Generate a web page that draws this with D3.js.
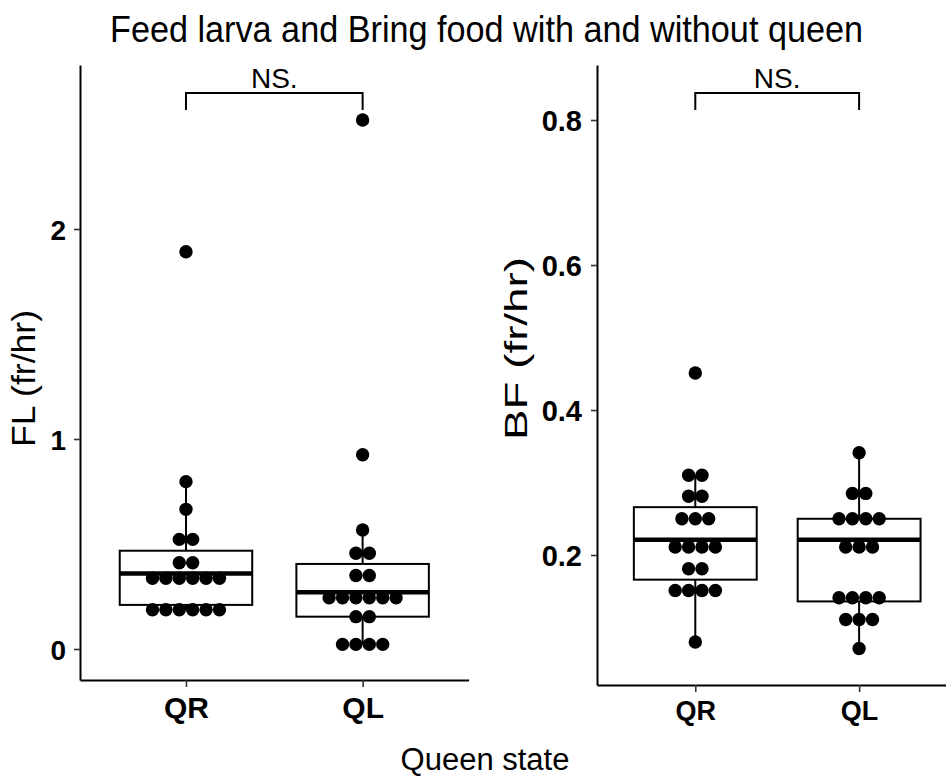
<!DOCTYPE html>
<html>
<head>
<meta charset="utf-8">
<script src="https://cdn.jsdelivr.net/npm/d3@7"></script>
<style>
  body { margin: 0; background: #fff; }
  text { font-family: "Liberation Sans", Arial, sans-serif; }
</style>
</head>
<body>
<svg id="chart" width="946" height="777"></svg>
<script>
"use strict";

// categories
var groups = ["QR", "QL"];

// dot values (as binned by the dotplot), FL panel
var flQR = [1.892, 0.797, 0.665, 0.522, 0.522, 0.411, 0.411,
    0.337, 0.337, 0.337, 0.337, 0.337, 0.337,
    0.187, 0.187, 0.187, 0.187, 0.187, 0.187];
var flQL = [2.519, 0.925, 0.567, 0.456, 0.456, 0.35, 0.35,
    0.244, 0.244, 0.244, 0.244, 0.244, 0.244,
    0.154, 0.154, 0.022, 0.022, 0.022, 0.022];

// dot values, BF panel
var bfQR = [0.451, 0.31, 0.31, 0.281, 0.281, 0.25, 0.25, 0.25,
    0.211, 0.211, 0.211, 0.211, 0.181, 0.181,
    0.151, 0.151, 0.151, 0.151, 0.08];
var bfQL = [0.341, 0.285, 0.285, 0.25, 0.25, 0.25, 0.25,
    0.211, 0.211, 0.211, 0.141, 0.141, 0.141, 0.141,
    0.111, 0.111, 0.111, 0.071];

// box statistics (QR, QL)
var flLow = [0.187, 0.022];
var flQ1 = [0.21, 0.154];
var flMed = [0.36, 0.27];
var flQ3 = [0.468, 0.405];
var flHigh = [0.797, 0.567];

var bfLow = [0.08, 0.071];
var bfQ1 = [0.166, 0.136];
var bfMed = [0.221, 0.221];
var bfQ3 = [0.266, 0.25];
var bfHigh = [0.31, 0.341];

// axis ticks
var flTicks = [0, 1, 2];
var bfTicks = [0.2, 0.4, 0.6, 0.8];

var svg = d3.select("#chart");
svg.append("rect").attr("width", 946).attr("height", 777).attr("fill", "#fff");

var DOT_D = 13.4;

function drawPanel(p) {
    var g = svg.append("g");
    var x = d3.scalePoint().domain(groups).range(p.xRange).padding(0.6);
    var y = d3.scaleLinear().domain(p.yDomain).range(p.yRange);
    var boxW = x.step() * 0.75;

    // y axis
    var ya = g.append("g")
        .attr("transform", "translate(" + p.xRange[0] + ",0)")
        .call(d3.axisLeft(y).tickValues(p.ticks).tickSize(6).tickSizeOuter(0)
            .tickPadding(p.yPad).tickFormat(p.fmt));
    ya.select(".domain").attr("stroke", "#000").attr("stroke-width", 2);
    ya.selectAll(".tick line").attr("stroke", "#333").attr("stroke-width", 1.6);
    ya.selectAll(".tick text")
        .attr("fill", "#000")
        .style("font-size", p.yFont + "px")
        .style("font-weight", "bold")
        .attr("dy", "0.36em");

    // x axis
    var xa = g.append("g")
        .attr("transform", "translate(0," + p.yRange[0] + ")")
        .call(d3.axisBottom(x).tickSize(7).tickSizeOuter(0));
    xa.select(".domain").attr("stroke", "#000").attr("stroke-width", 2);
    xa.selectAll(".tick line").attr("stroke", "#333").attr("stroke-width", 1.6);
    xa.selectAll(".tick text")
        .attr("fill", "#000")
        .attr("y", p.xLabY)
        .attr("dy", 0)
        .style("font-size", p.xFont + "px")
        .style("font-weight", "bold");

    // boxplots
    groups.forEach(function (grp, i) {
        var cx = x(grp);
        g.append("line")
            .attr("x1", cx).attr("x2", cx)
            .attr("y1", y(p.q3[i])).attr("y2", y(p.high[i]))
            .attr("stroke", "#000").attr("stroke-width", 2);
        g.append("line")
            .attr("x1", cx).attr("x2", cx)
            .attr("y1", y(p.q1[i])).attr("y2", y(p.low[i]))
            .attr("stroke", "#000").attr("stroke-width", 2);
        g.append("rect")
            .attr("x", cx - boxW / 2).attr("width", boxW)
            .attr("y", y(p.q3[i])).attr("height", y(p.q1[i]) - y(p.q3[i]))
            .attr("fill", "#fff").attr("stroke", "#000").attr("stroke-width", 2);
        g.append("line")
            .attr("x1", cx - boxW / 2).attr("x2", cx + boxW / 2)
            .attr("y1", y(p.med[i])).attr("y2", y(p.med[i]))
            .attr("stroke", "#000").attr("stroke-width", 4.5);
    });

    // dots, stacked centred on each bin
    groups.forEach(function (grp, i) {
        var vals = p.values[i];
        var bins = d3.groups(vals, function (v) { return v; });
        var pts = [];
        bins.forEach(function (b) {
            var n = b[1].length;
            b[1].forEach(function (v, k) {
                pts.push({ x: x(grp) + (k - (n - 1) / 2) * DOT_D, v: v });
            });
        });
        g.selectAll(null).data(pts).enter().append("circle")
            .attr("cx", function (d) { return d.x; })
            .attr("cy", function (d) { return y(d.v); })
            .attr("r", DOT_D / 2)
            .attr("fill", "#000");
    });

    // significance bracket
    var x1 = x(groups[0]), x2 = x(groups[1]);
    g.append("path")
        .attr("d", "M" + x1 + ",110V93H" + x2 + "V110")
        .attr("fill", "none").attr("stroke", "#000").attr("stroke-width", 2);
    g.append("text")
        .attr("x", (x1 + x2) / 2).attr("y", 88)
        .attr("text-anchor", "middle")
        .style("font-size", "28px")
        .text("NS.");

    // y title
    g.append("text")
        .attr("transform", "translate(" + p.yTitleX + "," + p.yTitleY + ") rotate(-90)")
        .attr("text-anchor", "middle")
        .attr("textLength", p.yTitleLen)
        .attr("lengthAdjust", "spacingAndGlyphs")
        .style("font-size", p.yTitleFont + "px")
        .text(p.yTitle);
}

drawPanel({
    xRange: [80, 468.6], yRange: [680, 65], yDomain: [-0.1476, 2.781],
    ticks: flTicks, fmt: d3.format("d"), yPad: 8, yFont: 28,
    xLabY: 38, xFont: 30,
    values: [flQR, flQL], low: flLow, q1: flQ1, med: flMed, q3: flQ3, high: flHigh,
    yTitle: "FL (fr/hr)", yTitleX: 35, yTitleY: 378.5, yTitleLen: 137, yTitleFont: 32.5
});

drawPanel({
    xRange: [597, 957.4], yRange: [685, 65], yDomain: [0.0207, 0.8759],
    ticks: bfTicks, fmt: d3.format(".1f"), yPad: 9, yFont: 29,
    xLabY: 35, xFont: 27,
    values: [bfQR, bfQL], low: bfLow, q1: bfQ1, med: bfMed, q3: bfQ3, high: bfHigh,
    yTitle: "BF (fr/hr)", yTitleX: 527, yTitleY: 348.5, yTitleLen: 183, yTitleFont: 32
});

// titles
svg.append("text")
    .attr("x", 486.5).attr("y", 42)
    .attr("text-anchor", "middle")
    .attr("textLength", 753)
    .attr("lengthAdjust", "spacingAndGlyphs")
    .style("font-size", "37px")
    .text("Feed larva and Bring food with and without queen");

svg.append("text")
    .attr("x", 485).attr("y", 770)
    .attr("text-anchor", "middle")
    .style("font-size", "31px")
    .text("Queen state");
</script>
</body>
</html>
